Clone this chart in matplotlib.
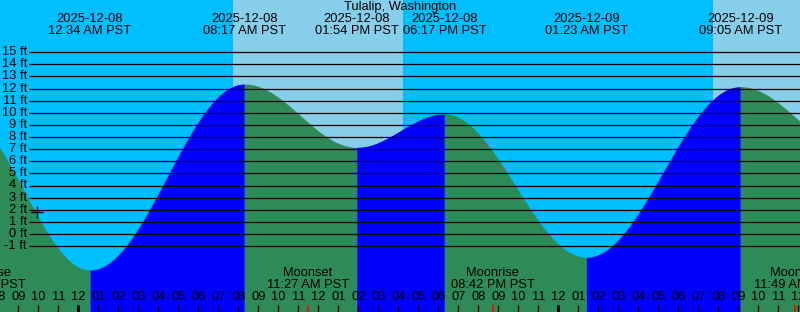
import matplotlib
matplotlib.use("Agg")
import matplotlib.pyplot as plt
import matplotlib.transforms as mtransforms
import numpy as np
import pandas as pd

# ---------------- data ----------------
title = "Tulalip, Washington"
base_time = pd.Timestamp("2025-12-08 00:00")

# tide extremes (first and last are just outside the visible window)
tide_times = ["2025-12-07 18:00", "2025-12-08 00:34", "2025-12-08 08:17",
              "2025-12-08 13:54", "2025-12-08 18:17", "2025-12-09 01:23",
              "2025-12-09 09:05", "2025-12-09 14:40"]
tide_heights = [10.0, -2.97, 12.37, 7.15, 9.9, -1.92, 12.15, 7.0]
labelled_events = [1, 2, 3, 4, 5, 6]

# daylight periods (sunrise, sunset)
day_starts = ["2025-12-08 07:42", "2025-12-09 07:42"]
day_ends = ["2025-12-08 16:13", "2025-12-09 16:13"]

# moon events
moon_names = ["Moonrise", "Moonset", "Moonrise", "Moonset"]
moon_times = ["2025-12-07 19:16", "2025-12-08 11:27", "2025-12-08 20:42", "2025-12-09 11:49"]

# height levels (ft)
levels = list(range(-1, 16))

# visible window
view_start = "2025-12-07 20:04"
view_end = "2025-12-09 12:04"

# ---------------- helpers ----------------
def hours(s):
    return (pd.Timestamp(s) - base_time) / pd.Timedelta(hours=1)

t_ext = np.array([hours(t) for t in tide_times])
h_ext = np.array(tide_heights, dtype=float)
x_lo, x_hi = hours(view_start), hours(view_end)

# figure pixel geometry: 0 ft at pixel row 234, 12.125 px per ft
H_PX = 312
ZERO_PX = 234.0
PX_PER_FT = 12.125
y_bot = (ZERO_PX - H_PX) / PX_PER_FT
y_top = ZERO_PX / PX_PER_FT

NIGHT = "#00BFFF"
DAY = "#87CEEB"
RISE = "#0000FF"
FALL = "#2E8B57"
FONT = ["Liberation Sans", "DejaVu Sans"]
FS = 9.3

fig = plt.figure(figsize=(8.0, 3.12), dpi=100)
ax = fig.add_axes([0, 0, 1, 1])
ax.set_xlim(x_lo, x_hi)
ax.set_ylim(y_bot, y_top)
ax.axis("off")
ax.add_patch(plt.Rectangle((0, 0), 1, 1, transform=ax.transAxes, color=NIGHT, zorder=0))

for s, e in zip(day_starts, day_ends):
    ax.axvspan(hours(s), hours(e), color=DAY, lw=0, zorder=1)

# tide curve: cosine interpolation between extremes
for i in range(len(t_ext) - 1):
    t0, t1 = t_ext[i], t_ext[i + 1]
    a, b = h_ext[i], h_ext[i + 1]
    tt = np.linspace(t0, t1, 300)
    hh = b + (a - b) * (1 + np.cos(np.pi * (tt - t0) / (t1 - t0))) / 2
    col = RISE if b > a else FALL
    ax.fill_between(tt, hh, y_bot, color=col, lw=0, zorder=2)

# horizontal level lines and labels
line_x0 = x_lo + 29 / 20.0
ax.hlines(levels, line_x0, x_hi, color="black", lw=0.9, zorder=3)
for lv in levels:
    ax.text(line_x0 - 0.1, lv, f"{lv} ft", ha="right", va="center",
            fontsize=FS, family=FONT, zorder=4)

# current-time marker
ax.plot([-2.07], [1.79], marker="+", color="black", ms=9, mew=1.0, zorder=5)

# pixel-row transform (x in data hours, y in pixels from top)
def yrow(px):
    return 1 - px / H_PX

trans = mtransforms.blended_transform_factory(ax.transData, ax.transAxes)

# title
ax.text(0.5, yrow(7), title, transform=ax.transAxes, ha="center", va="center",
        fontsize=FS, family=FONT, zorder=6)

# tide event labels at the top
for i in labelled_events:
    ts = pd.Timestamp(tide_times[i])
    x = t_ext[i]
    ax.text(x, yrow(19.5), ts.strftime("%Y-%m-%d"), transform=trans, ha="center",
            va="center", fontsize=FS, family=FONT, zorder=6)
    ax.text(x, yrow(31), ts.strftime("%I:%M %p PST"), transform=trans, ha="center",
            va="center", fontsize=FS, family=FONT, zorder=6)

# moon event labels at bottom
for name, mt in zip(moon_names, moon_times):
    ts = pd.Timestamp(mt)
    x = hours(mt)
    ax.text(x, yrow(273), name, transform=trans, ha="center", va="center",
            fontsize=FS, family=FONT, zorder=6)
    ax.text(x, yrow(285.5), ts.strftime("%I:%M %p PST"), transform=trans, ha="center",
            va="center", fontsize=FS, family=FONT, zorder=6)
    ax.plot([x, x], [yrow(305), yrow(312)], transform=trans, color="red",
            lw=1.2, solid_capstyle="butt", zorder=6)

# hour ticks and labels
for hr in range(int(np.floor(x_lo)), int(np.ceil(x_hi)) + 1):
    lab = f"{(hr % 12) or 12:02d}"
    ax.text(hr, yrow(297.5), lab, transform=trans, ha="center", va="center",
            fontsize=FS, family=FONT, zorder=6)
    midnight = hr % 24 == 0
    ax.plot([hr - 0.05, hr - 0.05], [yrow(305), yrow(312)], transform=trans,
            color="black", lw=2.2 if midnight else 0.9, solid_capstyle="butt", zorder=6)

fig.savefig("out.png", dpi=100)
